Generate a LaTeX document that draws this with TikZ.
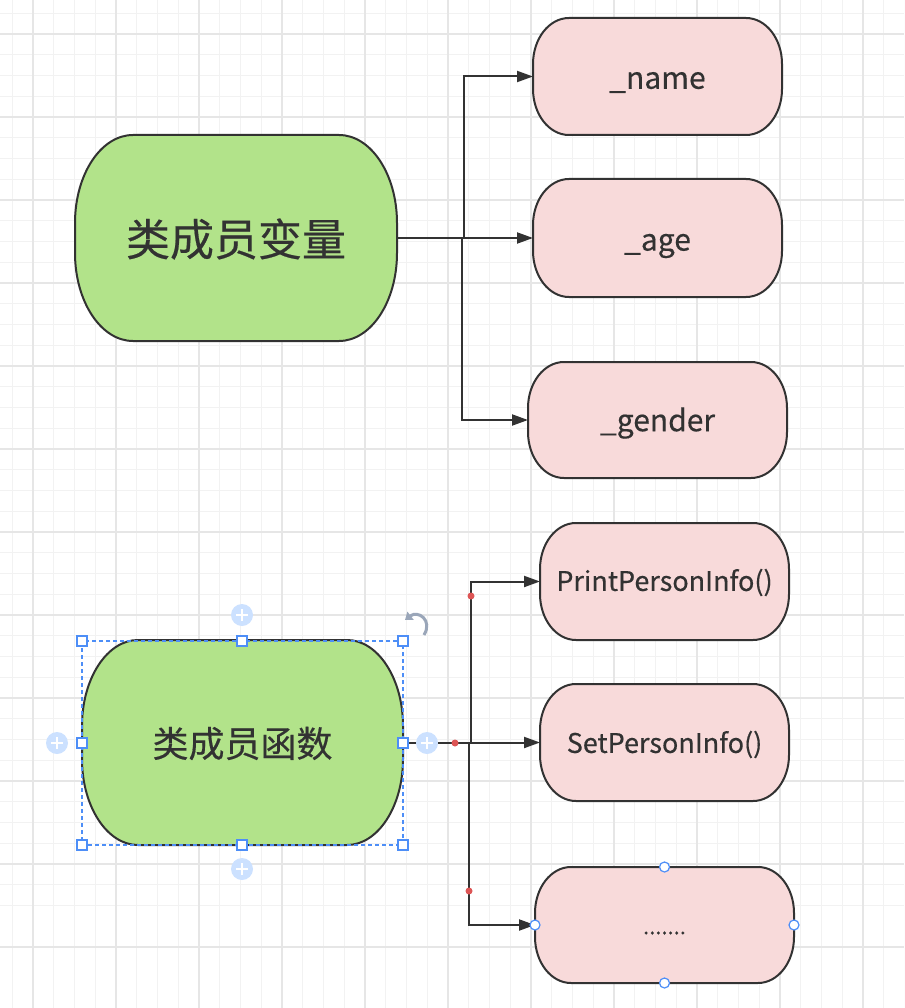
\documentclass[tikz,border=0pt]{standalone}
\usepackage{fontspec}
\setmainfont[FakeBold=0.4]{Noto Sans CJK SC}
\usetikzlibrary{arrows.meta}
\definecolor{gfill}{HTML}{B2E38A}
\definecolor{pfill}{HTML}{F8DADA}
\definecolor{ink}{HTML}{323232}
\definecolor{selblue}{HTML}{4D8EF7}
\definecolor{plusblue}{HTML}{CCE1FF}
\definecolor{dotred}{HTML}{DD5555}
\definecolor{gridminor}{HTML}{F2F2F2}
\definecolor{gridmajor}{HTML}{E6E6E6}
\definecolor{rotgray}{HTML}{9AA6B9}
\newcommand{\pillshape}[7]{%
 \path[#1] (#2+#6,#3) -- (#4-#6,#3) .. controls (#4-0.448*#6,#3) and (#4,#3+0.448*#7) .. (#4,#3+#7) -- (#4,#5-#7) .. controls (#4,#5-0.448*#7) and (#4-0.448*#6,#5) .. (#4-#6,#5) -- (#2+#6,#5) .. controls (#2+0.448*#6,#5) and (#2,#5-0.448*#7) .. (#2,#5-#7) -- (#2,#3+#7) .. controls (#2,#3+0.448*#7) and (#2+0.448*#6,#3) .. (#2+#6,#3) -- cycle;}
\newcommand{\pill}[9]{%
 \pillshape{draw=ink,line width=2pt,fill=#8}{#2-#4/2}{#3-#5/2}{#2+#4/2}{#3+#5/2}{#6}{#7}
 \node[lbl,minimum width=#4,minimum height=#5] (#1) at (#2,#3) {#9};}
\newcommand{\low}[2]{\raisebox{-#1pt}[\height][\depth]{#2}}
\tikzset{
 lbl/.style={text=ink,inner sep=0pt,outer sep=0pt},
 conn/.style={draw=ink,line width=2pt,-{Triangle[length=16pt,width=11pt]}},
 handle/.style={draw=selblue,fill=white,line width=1.2pt},
 plusc/.style={fill=plusblue},
 reddot/.style={fill=dotred},
}
\begin{document}
\begin{tikzpicture}[x=1pt,y=-1pt]
\useasboundingbox (0,0) rectangle (904,1008);
\clip (0,0) rectangle (904,1008);
\fill[white] (0,0) rectangle (904,1008);
% grid
\foreach \i in {0,...,46} {
 \draw[gridminor,line width=1pt] (-50+\i*20.75,0) -- (-50+\i*20.75,1008);
 \draw[gridminor,line width=1pt] (0,-49+\i*20.75) -- (904,-49+\i*20.75);
}
\foreach \i in {0,...,12} {
 \draw[gridmajor,line width=1.3pt] (-50+\i*83,0) -- (-50+\i*83,1008);
 \draw[gridmajor,line width=1.3pt] (0,-49+\i*83) -- (904,-49+\i*83);
}
% nodes
\pill{g1}{236}{238}{322}{206}{58}{88}{gfill}{\fontsize{44}{50}\selectfont\low{1}{类成员变量}}
\pill{g2}{242.5}{742.5}{321}{205}{56}{86}{gfill}{\fontsize{36}{42}\selectfont\low{1}{类成员函数}}
\pill{p1}{657.5}{76.5}{249}{117}{36}{46}{pfill}{\fontsize{30}{34}\selectfont\low{6}{\_name}}
\pill{p2}{657.5}{238}{249}{118}{36}{46}{pfill}{\fontsize{30}{34}\selectfont\low{8}{\_age}}
\pill{p3}{657.5}{420}{259}{116}{36}{46}{pfill}{\fontsize{30}{34}\selectfont\low{3}{\_gender}}
\pill{p4}{664.5}{581.5}{249}{117}{36}{46}{pfill}{\fontsize{27}{31}\selectfont\low{1}{PrintPersonInfo()}}
\pill{p5}{664.5}{742.5}{249}{117}{36}{46}{pfill}{\fontsize{27}{31}\selectfont\low{2}{SetPersonInfo()}}
\pill{p6}{664.5}{925}{259}{116}{36}{46}{pfill}{\fontsize{22}{26}\selectfont\low{8}{.......}}
% connectors
\draw[conn] (g1.east) -- ++(67,0) |- (p1.west);
\draw[conn] (g1.east) -- (p2.west);
\draw[conn] (g1.east) -- ++(65,0) |- (p3.west);
\draw[conn] (g2.east) -- ++(68,0) |- (p4.west);
\draw[conn] (g2.east) -- (p5.west);
\draw[conn] (g2.east) -- ++(66,0) |- (p6.west);
% editor marks
\fill[reddot] (471,596) circle (3.5);
\fill[reddot] (455,743) circle (3.5);
\fill[reddot] (469,891) circle (3.5);
\draw[selblue,line width=1.2pt,dash pattern=on 4pt off 3pt] (82,641) rectangle (403,845);
\foreach \p in {(82,641),(242,641),(403,641),(82,743),(403,743),(82,845),(242,845),(403,845)}
 \draw[handle] \p ++(-5,-5) rectangle ++(10,10);
\foreach \p in {(242,615),(57,743),(427,743),(242,869)} {
 \fill[plusc] \p circle (11);
 \draw[white,line width=1.6pt] \p ++(-6,0) -- ++(12,0);
 \draw[white,line width=1.6pt] \p ++(0,-6) -- ++(0,12);
}
\draw[rotgray,line width=3pt,{Triangle[length=7pt,width=10pt]}-] (405,620) .. controls (418,610) and (433,620) .. (424,635);
\foreach \p in {(664.5,867),(535,925),(794,925),(664.5,983)}
 \draw[handle] \p circle (5);
\end{tikzpicture}
\end{document}
